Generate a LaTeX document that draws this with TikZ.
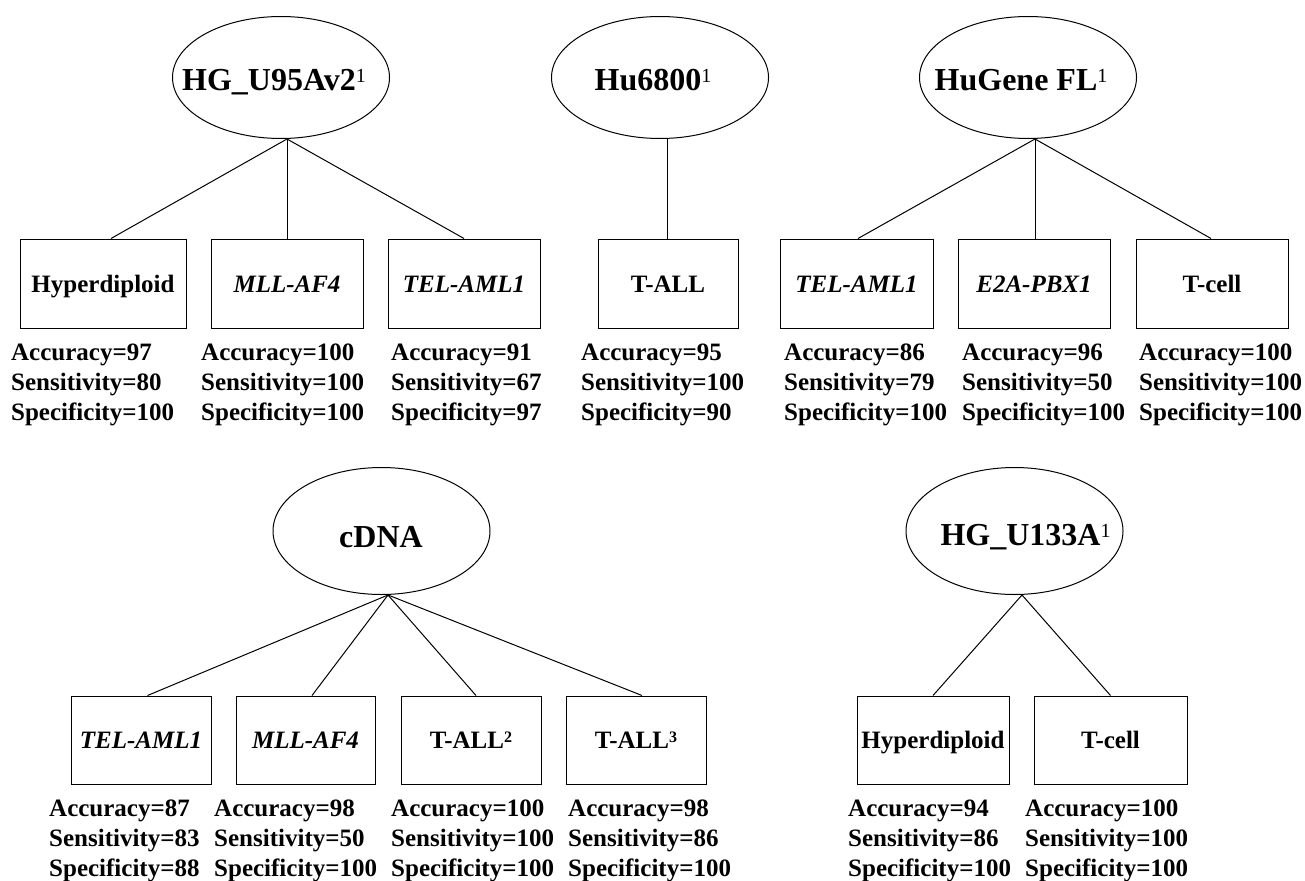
\documentclass[tikz,border=0pt]{standalone}
\usepackage{fontspec}
\setmainfont{Liberation Serif}
\usetikzlibrary{shapes.geometric,calc}
\newcommand\mystats[3]{\begin{tabular}[t]{@{}l@{}}Accuracy=#1\\Sensitivity=#2\\Specificity=#3\end{tabular}}
\newcommand\supone{{\fontsize{20}{20}\selectfont\mdseries\raisebox{7.7pt}{1}}}
\newcommand\supbold[1]{{\fontsize{16}{16}\selectfont\raisebox{6.5pt}{#1}}}
\begin{document}
\begin{tikzpicture}[x=1pt,y=-1pt,
  oval/.style={draw, ellipse, line width=1pt, minimum width=217pt, minimum height=122pt, inner sep=0pt},
  ovalb/.style={oval, minimum height=127pt},
  ovtext/.style={font=\fontsize{32}{32}\selectfont\bfseries, inner sep=0pt, text height=21pt, text depth=0pt},
  leaf/.style={draw, line width=1pt, rectangle, inner sep=0pt, minimum height=89pt, font=\fontsize{25}{30}\selectfont\bfseries, text height=17pt, text depth=0pt},
  stat/.style={anchor=base west, inner sep=0pt, font=\fontsize{25}{30}\selectfont\bfseries},
  link/.style={line width=1pt}]
\useasboundingbox (0,0) rectangle (1305,880);
\fill[white] (0,0) rectangle (1305,880);

% top ellipses
\node[oval] (e1) at (281,77.5) {};
\node[oval] (e2) at (660,77.5) {};
\node[oval] (e3) at (1028,77.5) {};
\node[ovtext] (l1) at (274,80) {HG\_U95Av2\supone};
\node[ovtext] (l2) at (653,80) {Hu6800\supone};
\node[ovtext] (l3) at (1021,80) {HuGene FL\supone};

% bottom ellipses
\node[ovalb] (e4) at (381.5,531) {};
\node[ovalb] (e5) at (1014.5,531) {};
\node[ovtext] (l4) at (381,537) {cDNA};
\node[ovtext] (l5) at (1025.5,535) {HG\_U133A\supone};

% top boxes
\node[leaf, minimum width=166pt] (b1) at (103,283.5) {Hyperdiploid};
\node[leaf, minimum width=152pt] (b2) at (287,283.5) {\textit{MLL-AF4}};
\node[leaf, minimum width=152pt] (b3) at (464,283.5) {\textit{TEL-AML1}};
\node[leaf, minimum width=140pt] (b4) at (668,283.5) {T-ALL};
\node[leaf, minimum width=153pt] (b5) at (856.5,283.5) {\textit{TEL-AML1}};
\node[leaf, minimum width=152pt] (b6) at (1034,283.5) {\textit{E2A-PBX1}};
\node[leaf, minimum width=152pt] (b7) at (1212,283.5) {T-cell};

% bottom boxes
\node[leaf, minimum width=140pt, minimum height=88pt] (c1) at (141,740) {\textit{TEL-AML1}};
\node[leaf, minimum width=139pt, minimum height=88pt] (c2) at (305.5,740) {\textit{MLL-AF4}};
\node[leaf, minimum width=140pt, minimum height=88pt] (c3) at (471,740) {T-ALL\supbold{2}};
\node[leaf, minimum width=140pt, minimum height=88pt] (c4) at (636,740) {T-ALL\supbold{3}};
\node[leaf, minimum width=152pt, minimum height=88pt] (d1) at (933,740) {Hyperdiploid};
\node[leaf, minimum width=153pt, minimum height=88pt] (d2) at (1110.5,740) {T-cell};

% connectors
\draw[link] ($(e1.south)+(6,0)$) -- ($(b1.north)+(8,0)$);
\draw[link] ($(e1.south)+(6,0)$) -- (b2.north);
\draw[link] ($(e1.south)+(6,0)$) -- (b3.north);
\draw[link] ($(e2.south)+(7,0)$) -- ($(b4.north)+(-1,0)$);
\draw[link] ($(e3.south)+(7,0)$) -- ($(b5.north)+(1.5,0)$);
\draw[link] ($(e3.south)+(7,0)$) -- ($(b6.north)+(1,0)$);
\draw[link] ($(e3.south)+(7,0)$) -- ($(b7.north)+(-1,0)$);
\draw[link] ($(e4.south)+(6.5,0)$) -- ($(c1.north)+(6.5,0)$);
\draw[link] ($(e4.south)+(6.5,0)$) -- ($(c2.north)+(6.5,0)$);
\draw[link] ($(e4.south)+(6.5,0)$) -- ($(c3.north)+(5,0)$);
\draw[link] ($(e4.south)+(6.5,0)$) -- ($(c4.north)+(6,0)$);
\draw[link] ($(e5.south)+(7.5,0)$) -- (d1.north);
\draw[link] ($(e5.south)+(7.5,0)$) -- (d2.north);

% statistics
\node[stat] (s1) at (11,360) {\mystats{97}{80}{100}};
\node[stat] (s2) at (201,360) {\mystats{100}{100}{100}};
\node[stat] (s3) at (391,360) {\mystats{91}{67}{97}};
\node[stat] (s4) at (581,360) {\mystats{95}{100}{90}};
\node[stat] (s5) at (784,360) {\mystats{86}{79}{100}};
\node[stat] (s6) at (962,360) {\mystats{96}{50}{100}};
\node[stat] (s7) at (1139,360) {\mystats{100}{100}{100}};
\node[stat] (t1) at (49,816) {\mystats{87}{83}{88}};
\node[stat] (t2) at (214,816) {\mystats{98}{50}{100}};
\node[stat] (t3) at (391,816) {\mystats{100}{100}{100}};
\node[stat] (t4) at (568,816) {\mystats{98}{86}{100}};
\node[stat] (t5) at (848,816) {\mystats{94}{86}{100}};
\node[stat] (t6) at (1025,816) {\mystats{100}{100}{100}};
\end{tikzpicture}
\end{document}
